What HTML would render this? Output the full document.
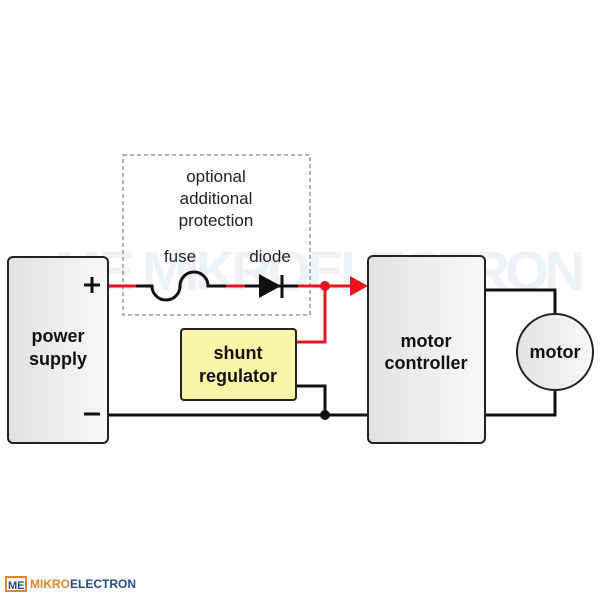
<!DOCTYPE html>
<html><head><style>body{margin:0;background:#fff}</style></head><body>
<svg width="600" height="600" xmlns="http://www.w3.org/2000/svg" font-family="Liberation Sans, sans-serif">
<defs><linearGradient id="g" x1="0" x2="1"><stop offset="0" stop-color="#e2e2e2"/><stop offset="1" stop-color="#f8f8f8"/></linearGradient></defs>
<text x="55" y="290" font-size="56" font-weight="bold" fill="#eef1f6" textLength="530">ME MIKROELECTRON</text>
<rect x="123" y="155" width="187" height="160" fill="none" stroke="#888" stroke-width="1.3" stroke-dasharray="4,3"/>
<text x="216" y="182" font-size="17" text-anchor="middle" fill="#222">optional</text>
<text x="216" y="204" font-size="17" text-anchor="middle" fill="#222">additional</text>
<text x="216" y="226" font-size="17" text-anchor="middle" fill="#222">protection</text>
<text x="180" y="262" font-size="17" text-anchor="middle" fill="#222">fuse</text>
<text x="270" y="262" font-size="17" text-anchor="middle" fill="#222">diode</text>
<g fill="none" stroke-width="3">
<path d="M108 286H136" stroke="#e8141b"/>
<path d="M136 286H152a14 14 0 0 0 28 0a14 14 0 0 1 28 0H226" stroke="#111"/>
<path d="M226 286H245" stroke="#e8141b"/>
<path d="M245 286H298" stroke="#111"/>
<path d="M298 286H352M296 342H325V286" stroke="#e8141b"/>
<path d="M108 415H368M296 386H325V415M485 290H555V314M485 415H555V390" stroke="#111"/>
<path d="M282 275V298" stroke="#111"/>
</g>
<polygon points="259,274 259,298 281,286" fill="#111"/>
<polygon points="350,276 368,286 350,296" fill="#e8141b"/>
<circle cx="325" cy="286" r="5" fill="#e8141b"/>
<circle cx="325" cy="415" r="5" fill="#111"/>
<rect x="8" y="257" width="100" height="186" rx="5" fill="url(#g)" stroke="#222" stroke-width="2"/>
<path d="M84 285H100M92 277V293M84 414H100" stroke="#111" stroke-width="3"/>
<text x="58" y="342" font-size="18" font-weight="bold" text-anchor="middle" fill="#111">power</text>
<text x="58" y="365" font-size="18" font-weight="bold" text-anchor="middle" fill="#111">supply</text>
<rect x="181" y="329" width="115" height="71" rx="3" fill="#fbf6a8" stroke="#222" stroke-width="2"/>
<text x="238" y="359" font-size="18" font-weight="bold" text-anchor="middle" fill="#111">shunt</text>
<text x="238" y="382" font-size="18" font-weight="bold" text-anchor="middle" fill="#111">regulator</text>
<rect x="368" y="256" width="117" height="187" rx="5" fill="url(#g)" stroke="#222" stroke-width="2"/>
<text x="426" y="347" font-size="18" font-weight="bold" text-anchor="middle" fill="#111">motor</text>
<text x="426" y="369" font-size="18" font-weight="bold" text-anchor="middle" fill="#111">controller</text>
<circle cx="555" cy="352" r="38" fill="url(#g)" stroke="#222" stroke-width="2"/>
<text x="555" y="358" font-size="18" font-weight="bold" text-anchor="middle" fill="#111">motor</text>
<rect x="6" y="577" width="20" height="14" fill="none" stroke="#e8822a" stroke-width="2"/>
<text x="8" y="589" font-size="11" font-weight="bold" fill="#2a4a8a">ME</text>
<text x="30" y="588" font-size="12" font-weight="bold" fill="#e8822a">MIKRO<tspan fill="#2a4a8a">ELECTRON</tspan></text>
</svg>
</body></html>
